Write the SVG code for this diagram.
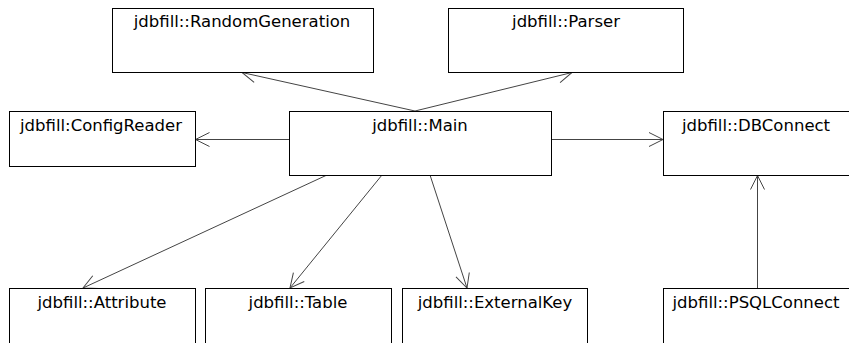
<svg xmlns="http://www.w3.org/2000/svg" width="849" height="343" viewBox="0 0 849 343">
  <style>
    .box { fill: #ffffff; stroke: #000000; stroke-width: 1; }
    .label { font-family: "DejaVu Sans", sans-serif; font-size: 16.5px; fill: #000000; text-anchor: middle; }
    .edge { fill: none; stroke: #444444; stroke-width: 1; marker-end: url(#open); }
  </style>
  <defs>
    <marker id="open" viewBox="0 0 16 16" refX="15" refY="8" markerWidth="16" markerHeight="16" markerUnits="userSpaceOnUse" orient="auto">
      <path d="M1,1 L15,8 L1,15" fill="none" stroke="#444444" stroke-width="1"/>
    </marker>
  </defs>
  <rect width="849" height="343" fill="#ffffff"/>

  <g id="connectors">
    <line class="edge" x1="415" y1="111" x2="242" y2="72.5"/>
    <line class="edge" x1="415" y1="111" x2="572" y2="72.5"/>
    <line class="edge" x1="289" y1="139.5" x2="195.5" y2="139.5"/>
    <line class="edge" x1="551" y1="139.5" x2="663" y2="139.5"/>
    <line class="edge" x1="327" y1="175" x2="83" y2="288"/>
    <line class="edge" x1="382" y1="175" x2="290" y2="288"/>
    <line class="edge" x1="430" y1="175" x2="467" y2="288"/>
    <line class="edge" x1="757.5" y1="288" x2="757.5" y2="175.5"/>
  </g>

  <g id="RandomGeneration">
    <rect class="box" x="112.5" y="8.5" width="261" height="64"/>
    <text class="label" x="242" y="27">jdbfill::RandomGeneration</text>
  </g>
  <g id="Parser">
    <rect class="box" x="448.5" y="8.5" width="235" height="64"/>
    <text class="label" x="566" y="27">jdbfill::Parser</text>
  </g>
  <g id="ConfigReader">
    <rect class="box" x="9.5" y="111.5" width="186" height="55"/>
    <text class="label" x="101" y="131">jdbfill:ConfigReader</text>
  </g>
  <g id="Main">
    <rect class="box" x="289.5" y="111.5" width="262" height="64"/>
    <text class="label" x="420" y="131">jdbfill::Main</text>
  </g>
  <g id="DBConnect">
    <rect class="box" x="663.5" y="111.5" width="200" height="64"/>
    <text class="label" x="756" y="131">jdbfill::DBConnect</text>
  </g>
  <g id="Attribute">
    <rect class="box" x="9.5" y="288.5" width="186" height="70"/>
    <text class="label" x="102" y="308">jdbfill::Attribute</text>
  </g>
  <g id="Table">
    <rect class="box" x="205.5" y="288.5" width="186" height="70"/>
    <text class="label" x="298" y="308">jdbfill::Table</text>
  </g>
  <g id="ExternalKey">
    <rect class="box" x="402.5" y="288.5" width="185" height="70"/>
    <text class="label" x="495" y="308">jdbfill::ExternalKey</text>
  </g>
  <g id="PSQLConnect">
    <rect class="box" x="663.5" y="288.5" width="200" height="70"/>
    <text class="label" x="756" y="308">jdbfill::PSQLConnect</text>
  </g>
</svg>
